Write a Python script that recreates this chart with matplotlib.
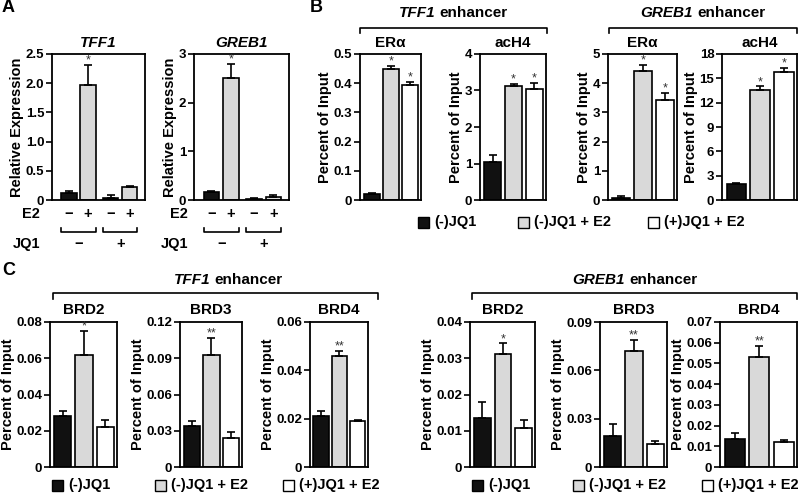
import numpy as np
import matplotlib.pyplot as plt
from matplotlib.patches import Rectangle
from matplotlib.lines import Line2D
from matplotlib.offsetbox import TextArea, HPacker, AnnotationBbox

plt.rcParams['font.family'] = ['Liberation Sans', 'DejaVu Sans']
plt.rcParams['font.weight'] = 'bold'

#==============================================================================
#- datos
#==============================================================================
# A - expresion relativa
a_genes = ['TFF1', 'GREB1']
a_vals = [[0.12, 1.97, 0.03, 0.22],
          [0.17, 2.50, 0.03, 0.07]]
a_errs = [[0.03, 0.35, 0.05, 0.02],
          [0.02, 0.30, 0.02, 0.03]]
a_stars = [['', '*', '', ''], ['', '*', '', '']]
a_ticks = [[0, 0.5, 1.0, 1.5, 2.0, 2.5], [0, 1, 2, 3]]
a_ticklabels = [['0', '0.5', '1.0', '1.5', '2.0', '2.5'], ['0', '1', '2', '3']]
e2_signs = ['\u2212', '+', '\u2212', '+']
jq1_signs = ['\u2212', '+']

# B - ChIP ERa / acH4
b_titles = ['ER\u03b1', 'acH4', 'ER\u03b1', 'acH4']
b_vals = [[0.02, 0.45, 0.395],
          [1.03, 3.12, 3.05],
          [0.08, 4.42, 3.42],
          [2.0, 13.6, 15.8]]
b_errs = [[0.005, 0.010, 0.010],
          [0.20, 0.06, 0.15],
          [0.05, 0.22, 0.25],
          [0.15, 0.40, 0.50]]
b_stars = [['', '*', '*']] * 4
b_ticks = [[0, 0.1, 0.2, 0.3, 0.4, 0.5],
           [0, 1, 2, 3, 4],
           [0, 1, 2, 3, 4, 5],
           [0, 3, 6, 9, 12, 15, 18]]
b_ticklabels = [['0', '0.1', '0.2', '0.3', '0.4', '0.5'],
                ['0', '1', '2', '3', '4'],
                ['0', '1', '2', '3', '4', '5'],
                ['0', '3', '6', '9', '12', '15', '18']]

# C - ChIP BRD2/3/4
c_titles = ['BRD2', 'BRD3', 'BRD4', 'BRD2', 'BRD3', 'BRD4']
c_vals = [[0.028, 0.062, 0.022],
          [0.034, 0.093, 0.024],
          [0.021, 0.046, 0.019],
          [0.0135, 0.0313, 0.0108],
          [0.019, 0.072, 0.014],
          [0.0135, 0.053, 0.012]]
c_errs = [[0.003, 0.013, 0.004],
          [0.004, 0.014, 0.005],
          [0.002, 0.002, 0.0006],
          [0.0045, 0.0028, 0.0023],
          [0.0075, 0.007, 0.002],
          [0.003, 0.0055, 0.001]]
c_stars = [['', '*', ''], ['', '**', ''], ['', '**', ''],
           ['', '*', ''], ['', '**', ''], ['', '**', '']]
c_ticks = [[0, 0.02, 0.04, 0.06, 0.08],
           [0, 0.03, 0.06, 0.09, 0.12],
           [0, 0.02, 0.04, 0.06],
           [0, 0.01, 0.02, 0.03, 0.04],
           [0, 0.03, 0.06, 0.09],
           [0, 0.01, 0.02, 0.03, 0.04, 0.05, 0.06, 0.07]]
c_ticklabels = [['0', '0.02', '0.04', '0.06', '0.08'],
                ['0', '0.03', '0.06', '0.09', '0.12'],
                ['0', '0.02', '0.04', '0.06'],
                ['0', '0.01', '0.02', '0.03', '0.04'],
                ['0', '0.03', '0.06', '0.09'],
                ['0', '0.01', '0.02', '0.03', '0.04', '0.05', '0.06', '0.07']]

leyenda = ['(-)JQ1', '(-)JQ1 + E2', '(+)JQ1 + E2']

#==============================================================================
#- figura
#==============================================================================
W, H = 800, 494
fig = plt.figure(figsize=(8, 4.94), dpi=100)
NEGRO, GRIS, BLANCO = '#111111', '#d9d9d9', 'white'
colores3 = [NEGRO, GRIS, BLANCO]


def ejes(l, t, r, b):
    return fig.add_axes([l / W, 1 - b / H, (r - l) / W, (b - t) / H])


def fx(x):
    return x / W


def fy(y):
    return 1 - y / H


def linea(xs, ys):
    fig.add_artist(Line2D([fx(x) for x in xs], [fy(y) for y in ys],
                          transform=fig.transFigure, color='k', lw=1.2))


def mixto(xc, yc, ital, resto, size=11):
    caja = HPacker(children=[TextArea(ital, textprops=dict(style='italic', weight='bold', size=size)),
                             TextArea(resto, textprops=dict(weight='bold', size=size))],
                   pad=0, sep=3)
    ab = AnnotationBbox(caja, (fx(xc), fy(yc)), xycoords='figure fraction',
                        frameon=False, box_alignment=(0.5, 0.5), pad=0)
    fig.add_artist(ab)


def barras(ax, x, vals, errs, colores, stars, ticks, ticklabels, width=0.8):
    ax.bar(x, vals, width=width, color=colores, edgecolor='k', linewidth=1.2, zorder=2)
    ax.errorbar(x, vals, yerr=[np.zeros(len(vals)), errs], fmt='none', ecolor='k',
                elinewidth=1.2, capsize=3, capthick=1.2, zorder=3)
    ymax = ticks[-1]
    ax.set_ylim(0, ymax)
    ax.set_yticks(ticks)
    ax.set_yticklabels(ticklabels, fontsize=9.5, fontweight='bold')
    ax.set_xticks([])
    for xi, v, e, s in zip(x, vals, errs, stars):
        if s:
            # el asterisco queda en la parte alta de la linea: anclar en la base
            ax.annotate(s, (xi, v + e), xytext=(0, 1), textcoords='offset points',
                        ha='center', va='baseline', fontsize=9, fontweight='normal',
                        color='#333333', annotation_clip=False, zorder=4)
    for sp in ax.spines.values():
        sp.set_linewidth(1.3)
    ax.tick_params(axis='y', direction='out', length=4, width=1.2, pad=1.5)


def leyenda_item(x, y, color, texto):
    fig.add_artist(Rectangle((fx(x), fy(y + 6)), 11 / W, 11 / H, transform=fig.transFigure,
                             facecolor=color, edgecolor='k', lw=1))
    fig.text(fx(x + 16), fy(y), texto, ha='left', va='center', fontsize=10.5, fontweight='bold')


# letras de panel
fig.text(fx(2), fy(8), 'A', fontsize=13, fontweight='bold', va='center')
fig.text(fx(310), fy(8), 'B', fontsize=13, fontweight='bold', va='center')
fig.text(fx(2), fy(270), 'C', fontsize=13, fontweight='bold', va='center')

#- Panel A
pos_a = [(52, 54, 145, 200), (194, 54, 289, 200)]
x4 = [0, 1, 2.2, 3.2]
lab_right = [40, 188]
for i in range(2):
    ax = ejes(*pos_a[i])
    barras(ax, x4, a_vals[i], a_errs[i], [NEGRO, GRIS, NEGRO, GRIS], a_stars[i],
           a_ticks[i], a_ticklabels[i], width=0.8)
    ax.set_xlim(-0.9, 4.0)
    ax.set_title(a_genes[i], fontsize=11, fontweight='bold', style='italic', pad=5)
    ax.set_ylabel('Relative Expression', fontsize=10.5, fontweight='bold', labelpad=1)
    tr = ax.get_xaxis_transform()
    for xi, s in zip(x4, e2_signs):
        ax.text(xi, -0.095, s, transform=tr, ha='center', va='center', fontsize=10.5, fontweight='bold')
    for g, s in enumerate(jq1_signs):
        x0, x1 = x4[2 * g] - 0.4, x4[2 * g + 1] + 0.4
        ax.plot([x0, x0, x1, x1], [-0.19, -0.22, -0.22, -0.19], transform=tr,
                color='k', lw=1.2, clip_on=False)
        ax.text((x4[2 * g] + x4[2 * g + 1]) / 2, -0.3, s, transform=tr, ha='center', va='center',
                fontsize=10.5, fontweight='bold')
    fig.text(fx(lab_right[i]), fy(214), 'E2', ha='right', va='center', fontsize=10.5, fontweight='bold')
    fig.text(fx(lab_right[i]), fy(244), 'JQ1', ha='right', va='center', fontsize=10.5, fontweight='bold')

#- Panel B
pos_b = [(360, 54, 421, 200), (480, 54, 546, 200), (608, 54, 677, 200), (722, 54, 797, 200)]
x3 = [0, 1, 2]
for i in range(4):
    ax = ejes(*pos_b[i])
    barras(ax, x3, b_vals[i], b_errs[i], colores3, b_stars[i], b_ticks[i], b_ticklabels[i], width=0.82)
    ax.set_xlim(-0.6, 2.55)
    ax.set_title(b_titles[i], fontsize=11, fontweight='bold', pad=5)
    ax.set_ylabel('Percent of Input', fontsize=10.5, fontweight='bold', labelpad=1)

linea([360, 360, 547, 547], [33, 28, 28, 33])
linea([609, 609, 797, 797], [33, 28, 28, 33])
mixto(453, 13, 'TFF1', 'enhancer')
mixto(703, 13, 'GREB1', 'enhancer')
for xl, c, t in zip([418, 518, 648], colores3, leyenda):
    leyenda_item(xl, 222, c, t)

#- Panel C
pos_c = [(50, 322, 117, 467), (180, 322, 242, 467), (310, 322, 368, 467),
         (470, 322, 535, 467), (600, 322, 667, 467), (720, 322, 797, 467)]
for i in range(6):
    ax = ejes(*pos_c[i])
    barras(ax, x3, c_vals[i], c_errs[i], colores3, c_stars[i], c_ticks[i], c_ticklabels[i], width=0.82)
    ax.set_xlim(-0.6, 2.55)
    ax.set_title(c_titles[i], fontsize=11, fontweight='bold', pad=6)
    ax.set_ylabel('Percent of Input', fontsize=10.5, fontweight='bold', labelpad=1)

linea([53, 53, 378, 378], [299, 293, 293, 299])
linea([472, 472, 797, 797], [299, 293, 293, 299])
mixto(228, 280, 'TFF1', 'enhancer')
mixto(635, 280, 'GREB1', 'enhancer')
for xl, c, t in zip([52, 155, 283], colores3, leyenda):
    leyenda_item(xl, 485, c, t)
for xl, c, t in zip([472, 573, 702], colores3, leyenda):
    leyenda_item(xl, 485, c, t)

plt.savefig('out.png', dpi=100)
